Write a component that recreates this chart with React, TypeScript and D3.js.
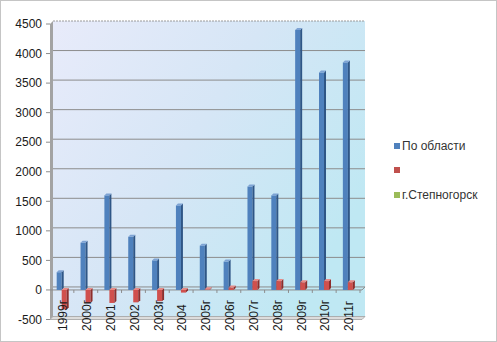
import React from "react";
import * as d3 from "d3";

const categories = ["1999г", "2000г", "2001", "2002", "2003г", "2004", "2005г", "2006г", "2007г", "2008г", "2009г", "2010г", "2011г"];
const seriesOblast = [300, 800, 1600, 900, 500, 1430, 750, 480, 1750, 1600, 4400, 3680, 3850];
const seriesSecond = [-330, -220, -220, -210, -190, -45, 10, 40, 150, 150, 130, 150, 130];
const seriesStepnogorsk: (number | null)[] = [null, null, null, null, null, null, null, null, null, null, null, null, null];
const legendNames = ["По области", "", "г.Степногорск"];
const yTicks = [-500, 0, 500, 1000, 1500, 2000, 2500, 3000, 3500, 4000, 4500];

const W = 497;
const H = 342;
const DX = 3;
const DY = -3;

export default function App() {
  const x = d3.scaleBand<string>().domain(categories).range([50, 360]).padding(0);
  const y = d3.scaleLinear().domain([-500, 4500]).range([319.5, 24]);
  const font = "'Liberation Sans', Arial, sans-serif";
  const y0 = y(0);

  const bar = (i: number, v: number, off: number, c: { front: string; side: string; top: string }, key: string) => {
    const bx = (x(categories[i]) as number) + off;
    const w = 5;
    const sd = 2;
    const yt = Math.min(y(v), y0);
    const yb = Math.max(y(v), y0);
    const topY = y(v) < y0 ? y(v) : y0;
    return (
      <g key={key}>
        <rect x={bx} y={yt} width={w} height={Math.max(yb - yt, 0.5)} fill={c.front} />
        <polygon points={`${bx + w},${yt} ${bx + w + sd},${yt - sd} ${bx + w + sd},${yb - sd} ${bx + w},${yb}`} fill={c.side} />
        <polygon points={`${bx},${topY} ${bx + sd},${topY - sd} ${bx + w + sd},${topY - sd} ${bx + w},${topY}`} fill={c.top} />
      </g>
    );
  };

  const blue = { front: "#4f81bd", side: "#2f5686", top: "#7ea3d4" };
  const red = { front: "#d0504d", side: "#8e2e2c", top: "#e88a86" };
  const green = "#9bbb59";
  const legendColors = ["#4f81bd", "#c0504d", green];
  const legendY = [146, 170, 195];

  return (
    <svg width={W} height={H} style={{ position: "absolute", left: 0, top: 0, background: "#fff" }} fontFamily={font}>
      <defs>
        <linearGradient id="wall" x1="0" y1="0" x2="1" y2="0.6">
          <stop offset="0" stopColor="#e8ebfa" />
          <stop offset="0.5" stopColor="#d6e6f6" />
          <stop offset="1" stopColor="#bfe8f3" />
        </linearGradient>
      </defs>
      <rect x={0.5} y={0.5} width={W - 1} height={H - 1} fill="#fff" stroke="#8a8a8a" strokeDasharray="1,1" />
      {/* back wall */}
      <rect x={50 + DX} y={y(4500) + DY} width={310 + 2} height={y(-500) - y(4500)} fill="url(#wall)" />
      <line x1={50 + DX} x2={362 + DX} y1={y(4500) + DY} y2={y(4500) + DY} stroke="#9a9a9a" strokeDasharray="2,1" />
      {yTicks.filter((t) => t > -500 && t < 4500).map((t) => (
        <line key={"g" + t} x1={50 + DX} x2={362 + DX} y1={y(t) + DY} y2={y(t) + DY} stroke="#8c8c8c" />
      ))}
      {/* left side wall */}
      <polygon points={`50,${y(4500)} ${50 + DX},${y(4500) + DY} ${50 + DX},${y(-500) + DY} 50,${y(-500)}`} fill="#a3a3a3" />
      {/* floor */}
      <polygon points={`50,${y(-500)} ${50 + DX},${y(-500) + DY} ${362 + DX},${y(-500) + DY} 362,${y(-500)}`} fill="#dcdcdc" stroke="#a0a0a0" strokeWidth={0.8} />
      {/* zero plane front line */}
      <line x1={50} x2={362} y1={y0} y2={y0} stroke="#8c8c8c" />
      <line x1={362} x2={362 + DX} y1={y0} y2={y0 + DY} stroke="#8c8c8c" />
      {categories.map((c, i) => (
        <line key={"xt" + i} x1={(x(c) as number) + x.bandwidth()} x2={(x(c) as number) + x.bandwidth()} y1={y0} y2={y0 + 3} stroke="#8c8c8c" />
      ))}
      {/* y axis ticks & labels */}
      {yTicks.map((t) => (
        <g key={"yt" + t}>
          <line x1={46} x2={50} y1={y(t)} y2={y(t)} stroke="#8c8c8c" />
          <text x={42} y={y(t)} dy="0.35em" textAnchor="end" fontSize={12} fill="#1a1a1a">{t}</text>
        </g>
      ))}
      {/* bars */}
      {seriesOblast.map((v, i) => bar(i, v, 6.7, blue, "b" + i))}
      {seriesSecond.map((v, i) => bar(i, v, 11.7, red, "r" + i))}
      {seriesStepnogorsk.map((v, i) => (v == null ? null : bar(i, v, 16, { front: green, side: "#6f8a3c", top: "#bcd68a" }, "g" + i)))}
      {/* x labels */}
      {categories.map((c, i) => {
        const cx = (x(c) as number) + x.bandwidth() / 2 + 1;
        return (
          <text key={"xl" + i} transform={`translate(${cx},331) rotate(-90)`} dy="0.35em" textAnchor="start" fontSize={12} fill="#1a1a1a">{c}</text>
        );
      })}
      {/* legend */}
      {legendNames.map((n, i) => (
        <g key={"lg" + i}>
          <rect x={394} y={legendY[i] - 3} width={6} height={6} fill={legendColors[i]} />
          <text x={402} y={legendY[i]} dy="0.35em" fontSize={12} fill="#333">{n}</text>
        </g>
      ))}
    </svg>
  );
}
